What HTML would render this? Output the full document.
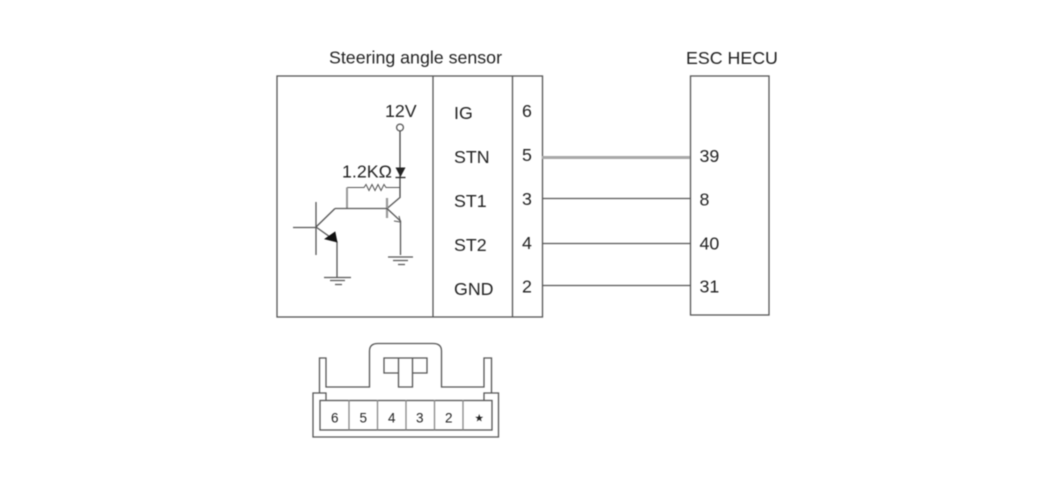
<!DOCTYPE html>
<html><head><meta charset="utf-8"><style>
html,body{margin:0;padding:0;background:#fff;width:1050px;height:484px;overflow:hidden}
svg{display:block;filter:blur(0.45px)}
text{font-family:"Liberation Sans",sans-serif;font-size:17.8px;fill:#222}
text.s{font-size:13.5px}
</style></head><body>
<svg width="1050" height="484" viewBox="0 0 1050 484" fill="none" stroke="#555" stroke-width="1.3">
<text x="329" y="63.500" stroke="none">Steering angle sensor</text>
<text x="686" y="64" stroke="none">ESC HECU</text>
<rect x="277" y="76" width="265.500" height="241"/>
<path d="M512.500 76V317M433 76V317"/>
<rect x="690.500" y="76" width="78.500" height="239"/>
<text x="454" y="119" stroke="none">IG</text>
<text x="454" y="163" stroke="none">STN</text>
<text x="454" y="207" stroke="none">ST1</text>
<text x="454" y="251" stroke="none">ST2</text>
<text x="454" y="295" stroke="none">GND</text>
<text x="522" y="117" stroke="none">6</text>
<text x="522" y="161" stroke="none">5</text>
<text x="522" y="205" stroke="none">3</text>
<text x="522" y="249" stroke="none">4</text>
<text x="522" y="292.500" stroke="none">2</text>
<text x="699.500" y="162" stroke="none">39</text>
<text x="699.500" y="205.500" stroke="none">8</text>
<text x="699.500" y="249.500" stroke="none">40</text>
<text x="699.500" y="292.500" stroke="none">31</text>
<path d="M542 157.500H690" stroke="#a8a8a8" stroke-width="3"/>
<path d="M542 198.500H690M542 243.500H690M542 285.500H690"/>
<text x="385" y="117" stroke="none">12V</text>
<text x="342" y="177.500" stroke="none">1.2KΩ</text>
<circle cx="400" cy="127.500" r="3.400"/>
<path d="M400 131V197" stroke="#444"/>
<path d="M395.500 167.500H405.500L400.500 177Z" fill="#222" stroke="none"/>
<path d="M395.500 177.500H405.500" stroke="#222"/>
<path d="M347 187.500H364l2-3 3 6 3-6 3 6 3-6 3 6 3-6 2 3H400" stroke-width="1"/>
<path d="M347 187.500V208.500" stroke="#999" stroke-width="2"/>
<path d="M400.500 197L387 208.500" />
<path d="M387 198V218" stroke="#999" stroke-width="2.200"/>
<path d="M335 208.500H387"/>
<path d="M387 208.500L400.500 221V255" />
<path d="M394 221L400.500 222L399 216" stroke-width="1"/>
<path d="M316 202V255M293 227.500H316"/>
<path d="M316 227L335 208.500"/>
<path d="M316 227L337 242V277"/>
<path d="M325 239L335 232L337 242Z" fill="#111" stroke="#111" stroke-width="0.800"/>
<path d="M388 257H413M393 260.500H408M398 264.500H405"/>
<path d="M324 277.500H351M330 280.500H345M335 284.500H342"/>
<!-- connector -->
<path d="M319.500 393V358H326V387H369.500V351Q369.500 343.500 378 343.500H433Q441.500 343.500 441.500 351V387H484V358H491.500V393"/>
<path d="M398.500 373H384V358H427V373H412.500M398.500 358V387H412.500V358"/>
<path d="M326 400V393H313V437H498.500V393H484V400"/>
<rect x="320" y="400.500" width="172" height="29.500"/>
<path d="M349 400V430M377.500 400V430M406 400V430M434.500 400V430M463 400V430" stroke="#888"/>
<text class="s" x="331" y="422.500" stroke="none">6</text>
<text class="s" x="359.500" y="422.500" stroke="none">5</text>
<text class="s" x="388" y="422.500" stroke="none">4</text>
<text class="s" x="416" y="422.500" stroke="none">3</text>
<text class="s" x="445" y="422.500" stroke="none">2</text>
<text x="474.500" y="421.500" stroke="none" style="font-family:'DejaVu Sans',sans-serif;font-size:10.500px">★</text>
</svg>
</body></html>
